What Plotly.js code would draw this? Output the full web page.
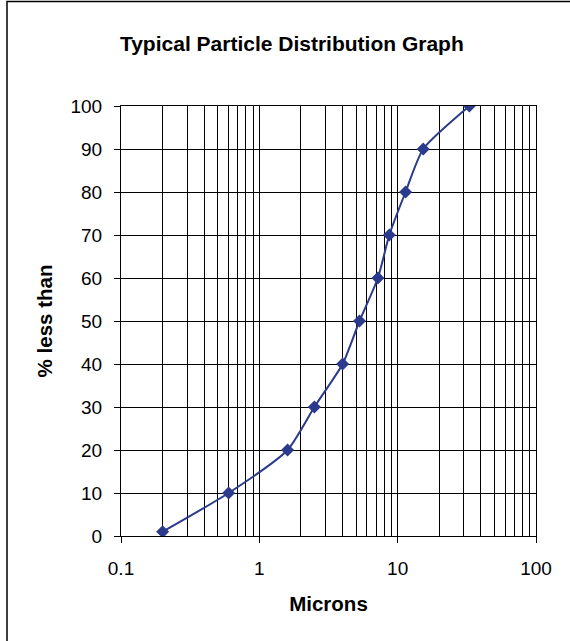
<!DOCTYPE html>
<html>
<head>
<meta charset="utf-8">
<script src="https://cdn.plot.ly/plotly-3.0.1.min.js"></script>
<style>html,body{margin:0;padding:0;background:#fff;}#chart{width:570px;height:641px;}</style>
</head>
<body>
<div id="chart"></div>
<script>
var microns = [0.2, 0.6, 1.6, 2.5, 4, 5.3, 7.2, 8.7, 11.4, 15.3, 33];
var percentLess = [1, 10, 20, 30, 40, 50, 60, 70, 80, 90, 100];
var majorTicks = [0.1, 1, 10, 100];
var majorTickText = ['0.1', '1', '10', '100'];
var minorTicks = [0.2,0.3,0.4,0.5,0.6,0.7,0.8,0.9,2,3,4,5,6,7,8,9,20,30,40,50,60,70,80,90];

var W = 570, H = 641, L = 121, R = 34, T = 106, B = 105;
var pw = W - L - R, ph = H - T - B;

var trace = {
  x: microns, y: percentLess, type: 'scatter', mode: 'lines+markers',
  line: {color: '#2B3A8C', width: 2, shape: 'spline', smoothing: 0.6},
  marker: {symbol: 'diamond', size: 10, color: '#2B3A8C'},
  hoverinfo: 'x+y'
};

var layout = {
  width: W, height: H,
  margin: {l: L, r: R, t: T, b: B},
  paper_bgcolor: '#fff', plot_bgcolor: '#fff',
  showlegend: false,
  font: {family: 'Liberation Sans, Arial, sans-serif', color: '#000', size: 19},
  title: {text: '<b>Typical Particle Distribution Graph</b>', x: 0.512, xanchor: 'center', y: 1 - 44/H, yanchor: 'middle',
          font: {size: 21, family: 'Liberation Sans, Arial, sans-serif', color: '#000'}},
  xaxis: {
    type: 'log', range: [-1, 2],
    tickmode: 'array', tickvals: majorTicks, ticktext: majorTickText,
    ticks: 'outside', ticklen: 6, tickcolor: '#000', tickwidth: 1,
    ticklabelstandoff: 9,
    showgrid: true, gridcolor: '#000', gridwidth: 1,
    minor: {tickmode: 'array', tickvals: minorTicks, showgrid: true, gridcolor: '#000', gridwidth: 1, ticks: ''},
    showline: true, linecolor: '#000', linewidth: 1, mirror: true,
    zeroline: false,
    tickfont: {size: 19},
    title: {text: '<b>Microns</b>', font: {size: 20.5}, standoff: 18}
  },
  yaxis: {
    range: [0, 100], dtick: 10, tick0: 0,
    ticks: 'outside', ticklen: 6, tickcolor: '#000', tickwidth: 1,
    ticklabelstandoff: 8,
    showgrid: true, gridcolor: '#000', gridwidth: 1,
    showline: true, linecolor: '#000', linewidth: 1, mirror: true,
    zeroline: false,
    tickfont: {size: 19},
    title: {text: '<b>% less than</b>', font: {size: 20.5}, standoff: 12}
  },
  shapes: [{
    type: 'rect', xref: 'paper', yref: 'paper',
    x0: (7 - L) / pw, x1: (W + 10 - L) / pw,
    y0: -(B + 10) / ph, y1: (ph + T - 1.5) / ph,
    line: {color: '#000', width: 1.5}, fillcolor: 'rgba(0,0,0,0)', layer: 'above'
  }]
};

Plotly.newPlot('chart', [trace], layout, {displayModeBar: false, staticPlot: true});
</script>
</body>
</html>
